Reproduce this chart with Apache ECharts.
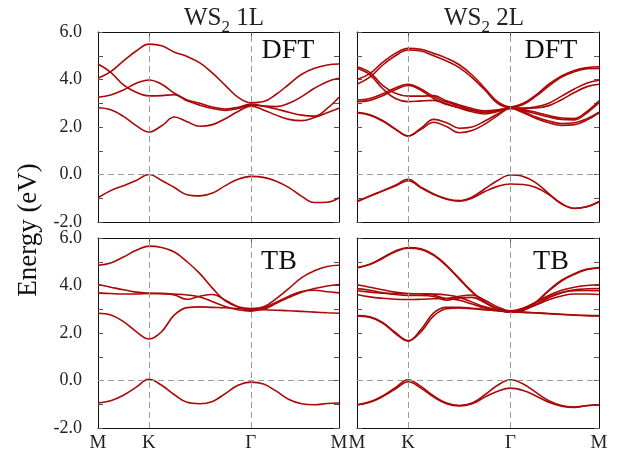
<!DOCTYPE html>
<html>
<head>
<meta charset="utf-8">
<script src="https://cdn.jsdelivr.net/npm/echarts@6/dist/echarts.min.js"></script>
<style>html,body{margin:0;padding:0;background:#fff}#c{width:627px;height:458px}</style>
</head>
<body>
<div id="c"></div>
<script>
// k-path positions: M=0, K=1, Gamma=3, M=3+sqrt(3)
const kpath = [0,0.25,0.5,0.75,1,1.25,1.5,1.75,2,2.25,2.5,2.75,3,3.25,3.5,3.75,4,4.25,4.5,4.732];
const kTicks = [0, 1, 3, 4.732];
const kTickLabels = ['M', 'K', 'Γ', 'M'];
const eTicks = [-2, 6, 1];

// WS2 1L DFT
const dft1_v1 = [-0.98,-0.68,-0.47,-0.25,0.0,-0.25,-0.55,-0.85,-0.9,-0.78,-0.47,-0.2,-0.08,-0.12,-0.28,-0.55,-0.92,-1.18,-1.17,-0.98];
const dft1_c1 = [2.81,2.73,2.45,2.06,1.79,2.05,2.42,2.22,2.03,2.1,2.35,2.65,2.88,2.72,2.5,2.32,2.27,2.4,2.6,2.79];
const dft1_c2 = [3.25,3.35,3.56,3.84,3.98,3.8,3.42,3.14,3.0,2.84,2.76,2.83,2.97,2.88,2.76,2.62,2.5,2.46,2.78,3.25];
const dft1_c3 = [4.65,4.3,3.77,3.46,3.31,3.32,3.36,3.1,2.92,2.78,2.7,2.78,2.93,2.88,2.86,3.0,3.28,3.63,3.91,4.05];
const dft1_c4 = [4.05,4.33,4.78,5.2,5.49,5.42,5.15,4.97,4.7,4.27,3.75,3.25,3.02,3.07,3.38,3.8,4.22,4.47,4.61,4.65];

// WS2 2L DFT
const dft2_v1 = [-1.13,-0.9,-0.68,-0.45,-0.2,-0.53,-0.82,-1.02,-1.1,-0.95,-0.6,-0.25,-0.02,-0.08,-0.35,-0.8,-1.22,-1.42,-1.35,-1.14];
const dft2_v2 = [-1.15,-0.92,-0.7,-0.48,-0.26,-0.56,-0.84,-1.04,-1.12,-1.0,-0.72,-0.5,-0.4,-0.42,-0.55,-0.85,-1.24,-1.43,-1.36,-1.16];
const dft2_d1 = [2.62,2.52,2.28,1.92,1.62,1.95,2.32,2.18,1.95,2.0,2.25,2.55,2.8,2.65,2.42,2.25,2.15,2.18,2.35,2.62];
const dft2_d2 = [2.6,2.5,2.25,1.9,1.62,1.9,2.2,2.02,1.76,1.85,2.12,2.48,2.78,2.6,2.36,2.18,2.07,2.1,2.3,2.6];
const dft2_c1 = [3.14,3.2,3.4,3.64,3.8,3.6,3.28,3.05,2.88,2.72,2.62,2.7,2.82,2.74,2.62,2.48,2.38,2.36,2.66,3.1];
const dft2_c2 = [3.07,3.12,3.32,3.57,3.75,3.55,3.2,2.98,2.8,2.64,2.55,2.65,2.8,2.7,2.56,2.42,2.32,2.3,2.6,3.02];
const dft2_b1 = [4.54,4.3,3.75,3.42,3.3,3.3,3.32,3.1,2.93,2.78,2.68,2.72,2.8,2.8,2.85,3.0,3.3,3.6,3.85,3.97];
const dft2_b2 = [4.47,4.2,3.62,3.2,3.07,3.1,3.12,2.95,2.82,2.7,2.62,2.68,2.78,2.78,2.8,2.9,3.15,3.45,3.7,3.8];
const dft2_a1 = [4.0,4.25,4.72,5.1,5.31,5.27,5.1,4.9,4.62,4.19,3.63,3.07,2.85,3.0,3.35,3.8,4.15,4.38,4.5,4.54];
const dft2_a2 = [3.8,4.1,4.6,5.0,5.24,5.2,5.0,4.78,4.5,4.08,3.56,3.0,2.82,2.95,3.3,3.72,4.1,4.33,4.45,4.47];

// WS2 1L TB
const tb1_v  = [-0.95,-0.85,-0.62,-0.28,0.05,-0.2,-0.6,-0.92,-0.98,-0.88,-0.55,-0.2,-0.07,-0.15,-0.45,-0.8,-0.98,-1.02,-0.97,-0.95];
const tb1_c1 = [2.83,2.76,2.48,2.06,1.75,2.06,2.76,3.07,3.1,3.08,3.06,3.03,3.0,2.98,2.96,2.94,2.91,2.88,2.85,2.83];
const tb1_c2 = [3.69,3.66,3.64,3.64,3.67,3.67,3.64,3.6,3.52,3.32,3.12,2.98,2.92,3.05,3.3,3.55,3.75,3.8,3.74,3.69];
const tb1_c3 = [4.04,3.93,3.82,3.72,3.67,3.65,3.6,3.42,3.55,3.62,3.38,3.1,2.95,3.0,3.25,3.5,3.72,3.87,3.98,4.04];
const tb1_c4 = [4.85,4.95,5.2,5.48,5.66,5.6,5.41,5.0,4.5,3.88,3.35,3.1,3.03,3.1,3.45,3.88,4.33,4.62,4.8,4.85];

// WS2 2L TB
const tb2_v1 = [-1.02,-0.9,-0.65,-0.3,0.03,-0.25,-0.65,-0.95,-1.05,-0.95,-0.6,-0.2,0.03,-0.15,-0.5,-0.85,-1.05,-1.12,-1.05,-1.02];
const tb2_v2 = [-1.03,-0.92,-0.68,-0.36,-0.05,-0.32,-0.7,-0.98,-1.07,-0.98,-0.7,-0.45,-0.32,-0.42,-0.65,-0.92,-1.08,-1.13,-1.06,-1.03];
const tb2_c1 = [2.73,2.68,2.45,2.02,1.68,2.05,2.72,3.02,3.05,3.02,2.98,2.94,2.9,2.88,2.85,2.82,2.79,2.76,2.74,2.73];
const tb2_c2 = [2.72,2.66,2.42,1.98,1.66,2.15,2.85,3.08,3.08,3.04,2.99,2.94,2.89,2.87,2.84,2.81,2.78,2.75,2.73,2.72];
const tb2_b1 = [4.03,3.93,3.82,3.72,3.66,3.65,3.6,3.45,3.55,3.6,3.38,3.1,2.93,3.05,3.3,3.58,3.8,3.93,4.0,4.03];
const tb2_b2 = [3.87,3.8,3.7,3.62,3.58,3.58,3.54,3.38,3.48,3.5,3.28,3.02,2.9,2.98,3.2,3.48,3.7,3.82,3.86,3.87];
const tb2_m1 = [3.78,3.72,3.68,3.66,3.65,3.65,3.64,3.6,3.5,3.3,3.1,2.97,2.92,3.02,3.28,3.52,3.7,3.78,3.79,3.78];
const tb2_m2 = [3.62,3.52,3.46,3.42,3.41,3.42,3.44,3.45,3.38,3.22,3.05,2.95,2.88,2.98,3.18,3.4,3.56,3.64,3.64,3.62];
const tb2_t1 = [4.76,4.9,5.17,5.45,5.6,5.55,5.3,4.85,4.3,3.75,3.31,3.03,2.9,2.97,3.31,3.8,4.22,4.5,4.69,4.76];
const tb2_t2 = [4.74,4.88,5.14,5.42,5.57,5.52,5.27,4.82,4.27,3.72,3.28,3.0,2.88,2.95,3.28,3.77,4.19,4.47,4.67,4.74];

const panelTitles = ['WS', '2', ' 1L', ' 2L'];
const methodLabels = ['DFT', 'DFT', 'TB', 'TB'];

const panels = [
  { bands: [dft1_v1, dft1_c1, dft1_c2, dft1_c3, dft1_c4], rect: [98, 32, 241, 190], xl: false, yl: true, tag: [288, 51] },
  { bands: [dft2_v1, dft2_v2, dft2_d1, dft2_d2, dft2_c1, dft2_c2, dft2_b1, dft2_b2, dft2_a1, dft2_a2], rect: [357, 32, 242, 190], xl: false, yl: false, tag: [551, 51] },
  { bands: [tb1_v, tb1_c1, tb1_c2, tb1_c3, tb1_c4], rect: [98, 238, 241, 190], xl: true, yl: true, tag: [279, 262] },
  { bands: [tb2_v1, tb2_v2, tb2_c1, tb2_c2, tb2_b1, tb2_b2, tb2_m1, tb2_m2, tb2_t1, tb2_t2], rect: [357, 238, 242, 190], xl: true, yl: false, tag: [551, 262] }
];

const FONT = 'Liberation Serif';
const RED = '#ab0808';
const TICKC = '#555';
const KMAX = kTicks[kTicks.length - 1];

const grid = [], xAxis = [], yAxis = [], series = [], graphic = [];

panels.forEach((p, gi) => {
  grid.push({ left: p.rect[0], top: p.rect[1], width: p.rect[2], height: p.rect[3], containLabel: false, outerBoundsMode: 'none' });
  const axLine = { show: true, onZero: false, lineStyle: { color: '#111', width: 1 } };
  const xTick = { show: true, inside: true, length: 5, customValues: [kTicks[1], kTicks[2]], lineStyle: { color: TICKC, width: 1 } };
  xAxis.push({
    type: 'value', gridIndex: gi, min: 0, max: KMAX, position: 'bottom',
    axisLine: axLine, axisTick: xTick, splitLine: { show: false },
    axisLabel: {
      show: p.xl, customValues: kTicks, margin: 6, fontFamily: FONT, fontSize: 19, color: '#222',
      showMinLabel: true, showMaxLabel: true,
      formatter: v => { const i = kTicks.findIndex(t => Math.abs(t - v) < 1e-6); return i >= 0 ? kTickLabels[i] : ''; }
    }
  });
  xAxis.push({
    type: 'value', gridIndex: gi, min: 0, max: KMAX, position: 'top',
    axisLine: axLine, axisTick: xTick, splitLine: { show: false }, axisLabel: { show: false }
  });
  const yTick = { show: true, inside: true, length: 5, lineStyle: { color: TICKC, width: 1 } };
  yAxis.push({
    type: 'value', gridIndex: gi, min: eTicks[0], max: eTicks[1], interval: eTicks[2], position: 'left',
    axisLine: axLine, axisTick: yTick, splitLine: { show: false },
    axisLabel: {
      show: p.yl, margin: 16, fontFamily: FONT, fontSize: 18, color: '#222',
      showMinLabel: true, showMaxLabel: true,
      formatter: v => (Math.round(v) % 2 === 0 ? v.toFixed(1) : '')
    }
  });
  yAxis.push({
    type: 'value', gridIndex: gi, min: eTicks[0], max: eTicks[1], interval: eTicks[2], position: 'right',
    axisLine: axLine, axisTick: yTick, splitLine: { show: false }, axisLabel: { show: false }
  });
  // guide lines at K, Gamma and E = 0
  series.push({
    type: 'line', xAxisIndex: 2 * gi, yAxisIndex: 2 * gi, data: [[0, -10]], symbol: 'none',
    lineStyle: { opacity: 0 }, z: 1, silent: true,
    markLine: {
      silent: true, symbol: ['none', 'none'], label: { show: false },
      lineStyle: { type: [6, 4], color: '#9a9a9a', width: 1 },
      data: [{ xAxis: kTicks[1] }, { xAxis: kTicks[2] }, { yAxis: 0 }],
      animation: false
    }
  });
  p.bands.forEach(b => {
    series.push({
      type: 'line', xAxisIndex: 2 * gi, yAxisIndex: 2 * gi,
      data: kpath.map((k, i) => [k, b[i]]),
      smooth: 0.4, symbol: 'none', showSymbol: false, z: 3, silent: true,
      lineStyle: { color: RED, width: 1.6 }
    });
  });
  graphic.push({
    type: 'text', x: p.tag[0], y: p.tag[1], z: 10,
    style: { text: methodLabels[gi], font: '28px "' + FONT + '"', fill: '#111', align: 'center', verticalAlign: 'middle' }
  });
});

graphic.push({
  type: 'text', x: 29, y: 230, rotation: Math.PI / 2, z: 10,
  style: { text: 'Energy (eV)', font: '27px "' + FONT + '"', fill: '#111', align: 'center', verticalAlign: 'middle' }
});

const titleRich = {
  a: { fontFamily: FONT, fontSize: 25, fontWeight: 'normal', color: '#222', lineHeight: 28 },
  s: { fontFamily: FONT, fontSize: 17, fontWeight: 'normal', color: '#222', lineHeight: 28, verticalAlign: 'bottom', padding: [0, 0, -4, 0] }
};
const title = [
  { text: '{a|' + panelTitles[0] + '}{s|' + panelTitles[1] + '}{a|' + panelTitles[2] + '}', left: 219, top: -1, textAlign: 'center', textStyle: { fontWeight: 'normal', rich: titleRich } },
  { text: '{a|' + panelTitles[0] + '}{s|' + panelTitles[1] + '}{a|' + panelTitles[3] + '}', left: 479, top: -1, textAlign: 'center', textStyle: { fontWeight: 'normal', rich: titleRich } }
];

const chart = echarts.init(document.getElementById('c'), null, { renderer: 'canvas', width: 627, height: 458 });
chart.setOption({ animation: false, backgroundColor: '#fff', title, grid, xAxis, yAxis, series, graphic });
</script>
</body>
</html>
